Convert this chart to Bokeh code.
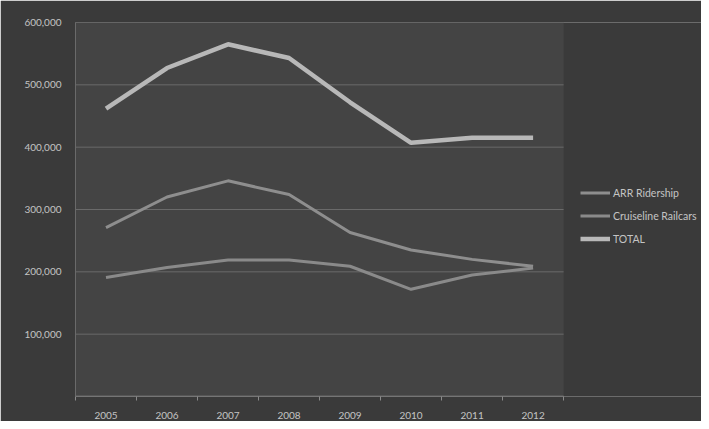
from bokeh.plotting import figure
from bokeh.models import FixedTicker, NumeralTickFormatter, Legend, LegendItem, Range1d, ColumnDataSource, BoxAnnotation
from bokeh.embed import file_html
from bokeh.resources import INLINE

years = [2005, 2006, 2007, 2008, 2009, 2010, 2011, 2012]
arr_ridership = [271000, 320000, 346000, 324000, 263000, 235000, 220000, 209000]
cruiseline_railcars = [191000, 207000, 219000, 219000, 209000, 172000, 195000, 206000]
total = [462000, 527000, 565000, 543000, 472000, 407000, 415000, 415000]
y_ticks = [100000, 200000, 300000, 400000, 500000, 600000]

src = ColumnDataSource(dict(year=years, arr=arr_ridership, cruise=cruiseline_railcars, total=total))

FONT = "Lato"
TXT = "#c4c4c4"
BG = "#3a3a3a"

x_lo = years[0] - 0.5
x_hi = years[-1] + 0.5

p = figure(width=701, height=421, output_backend="svg", toolbar_location=None,
           x_range=Range1d(x_lo, x_hi + 2.26), y_range=Range1d(0, 600000),
           min_border_left=75, min_border_right=0, min_border_top=22, min_border_bottom=23)
p.background_fill_color = BG
p.border_fill_color = BG
p.outline_line_color = None

# lighter plot area limited to the category span
p.add_layout(BoxAnnotation(right=x_hi, fill_color="#444444", fill_alpha=1, line_color=None, level="underlay"))

# horizontal grid lines over the category span
p.segment(x0=[x_lo] * len(y_ticks), x1=[x_hi] * len(y_ticks), y0=y_ticks, y1=y_ticks,
          line_color="#6a6a6a", line_width=1)
# category axis baseline
p.segment(x0=[x_lo], x1=[x_hi], y0=[0], y1=[0], line_color="#8a8a8a", line_width=1.5)

r1 = p.line("year", "arr", source=src, line_color="#8e8e8e", line_width=3)
r2 = p.line("year", "cruise", source=src, line_color="#8a8a8a", line_width=3)
r3 = p.line("year", "total", source=src, line_color="#b8b8b8", line_width=4.5)

# axes
p.xaxis.ticker = FixedTicker(ticks=years, minor_ticks=[y - 0.5 for y in years] + [x_hi])
p.xaxis.major_tick_line_color = None
p.xaxis.minor_tick_line_color = "#8a8a8a"
p.xaxis.minor_tick_out = 4
p.xaxis.minor_tick_in = 0
p.xaxis.axis_line_color = None
p.xaxis.major_label_standoff = 9
p.xaxis.major_label_text_font = FONT
p.xaxis.major_label_text_font_size = "10px"
p.xaxis.major_label_text_color = TXT

p.yaxis.ticker = FixedTicker(ticks=y_ticks)
p.yaxis.formatter = NumeralTickFormatter(format="0,0")
p.yaxis.major_tick_line_color = None
p.yaxis.minor_tick_line_color = None
p.yaxis.axis_line_color = "#6a6a6a"
p.yaxis.major_label_standoff = 8
p.yaxis.major_label_text_font = FONT
p.yaxis.major_label_text_font_size = "10px"
p.yaxis.major_label_text_color = TXT

p.xgrid.grid_line_color = None
p.ygrid.grid_line_color = None

legend = Legend(items=[LegendItem(label="ARR Ridership", renderers=[r1]),
                       LegendItem(label="Cruiseline Railcars", renderers=[r2]),
                       LegendItem(label="TOTAL", renderers=[r3])],
                location=(505, 150))
legend.background_fill_alpha = 0
legend.border_line_color = None
legend.padding = 0
legend.margin = 0
legend.spacing = 8
legend.glyph_width = 30
legend.glyph_height = 15
legend.label_height = 15
legend.label_standoff = 3
legend.label_text_font = FONT
legend.label_text_font_size = "10.5px"
legend.label_text_color = TXT
p.add_layout(legend, "center")

open("out.html", "w").write(file_html(p, INLINE))
